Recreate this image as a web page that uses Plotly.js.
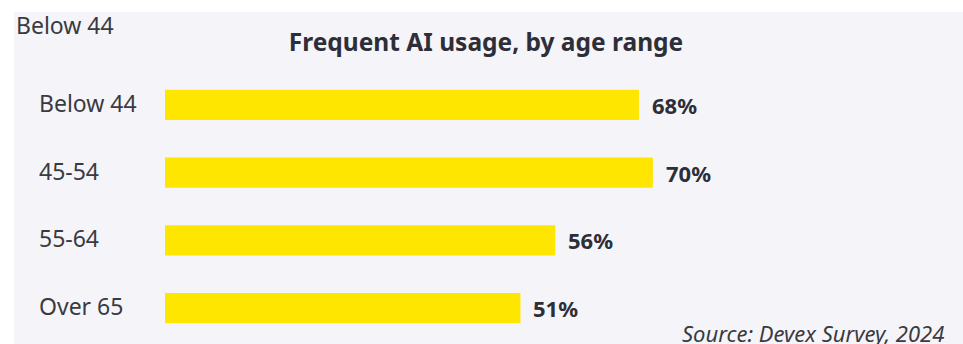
<!DOCTYPE html>
<html>
<head>
<meta charset="utf-8">
<script src="https://cdn.plot.ly/plotly-3.0.1.min.js"></script>
<style>
  html, body { margin: 0; padding: 0; background: #ffffff; }
  #chart { position: absolute; left: 14px; top: 12px; width: 949px; height: 332px; }
</style>
</head>
<body>
<div id="chart"></div>
<script>
const categories = ["Below 44", "45-54", "55-64", "Over 65"];
const values = [68, 70, 56, 51];
const valueLabels = ["68%", "70%", "56%", "51%"];
const titleText = "Frequent AI usage, by age range";
const sourceText = "Source: Devex Survey, 2024";
const cornerText = "Below 44";

const dark = "#2e2e38";
const fontFam = "'Noto Sans', 'Open Sans', sans-serif";

const annotations = [];
categories.forEach((c, i) => {
  annotations.push({
    x: -0.1836, xref: "paper", y: c, yref: "y",
    text: c, showarrow: false, xanchor: "left", yanchor: "middle", yshift: 2,
    font: { family: fontFam, size: 23, color: "#3a3a42" }
  });
  annotations.push({
    x: values[i], xref: "x", y: c, yref: "y",
    text: "<b>" + valueLabels[i] + "</b>", showarrow: false,
    xanchor: "left", yanchor: "middle", xshift: 11, yshift: 0,
    font: { family: fontFam, size: 22, color: dark }
  });
});
annotations.push({
  x: -0.2166, xref: "paper", y: 1.1697, yref: "paper",
  text: cornerText, showarrow: false, xanchor: "left", yanchor: "middle",
  font: { family: fontFam, size: 23, color: "#3a3a42" }
});
annotations.push({
  x: 1.1205, xref: "paper", y: 0.034, yref: "paper",
  text: "<i>" + sourceText + "</i>", showarrow: false, xanchor: "right", yanchor: "middle",
  font: { family: fontFam, size: 22, color: "#3a3a42" }
});

const data = [{
  type: "bar",
  orientation: "h",
  x: values,
  y: categories,
  width: 0.443,
  marker: { color: "#ffe600" },
  hoverinfo: "none"
}];

const layout = {
  width: 949, height: 332,
  paper_bgcolor: "#f5f5f9",
  plot_bgcolor: "#f5f5f9",
  margin: { l: 151, r: 101, t: 59, b: 2, pad: 0 },
  title: {
    text: "<b>" + titleText + "</b>",
    x: 472 / 949, xref: "container", xanchor: "center",
    y: 1 - 30 / 332, yref: "container", yanchor: "middle",
    font: { family: fontFam, size: 24.5, color: dark }
  },
  xaxis: { range: [0, 100], visible: false, showgrid: false, zeroline: false, fixedrange: true },
  yaxis: {
    type: "category", categoryorder: "array", categoryarray: categories,
    autorange: "reversed", showticklabels: false, showgrid: false, zeroline: false,
    ticks: "", showline: false, fixedrange: true
  },
  showlegend: false,
  annotations: annotations
};

Plotly.newPlot("chart", data, layout, { displayModeBar: false, staticPlot: true });
</script>
</body>
</html>
